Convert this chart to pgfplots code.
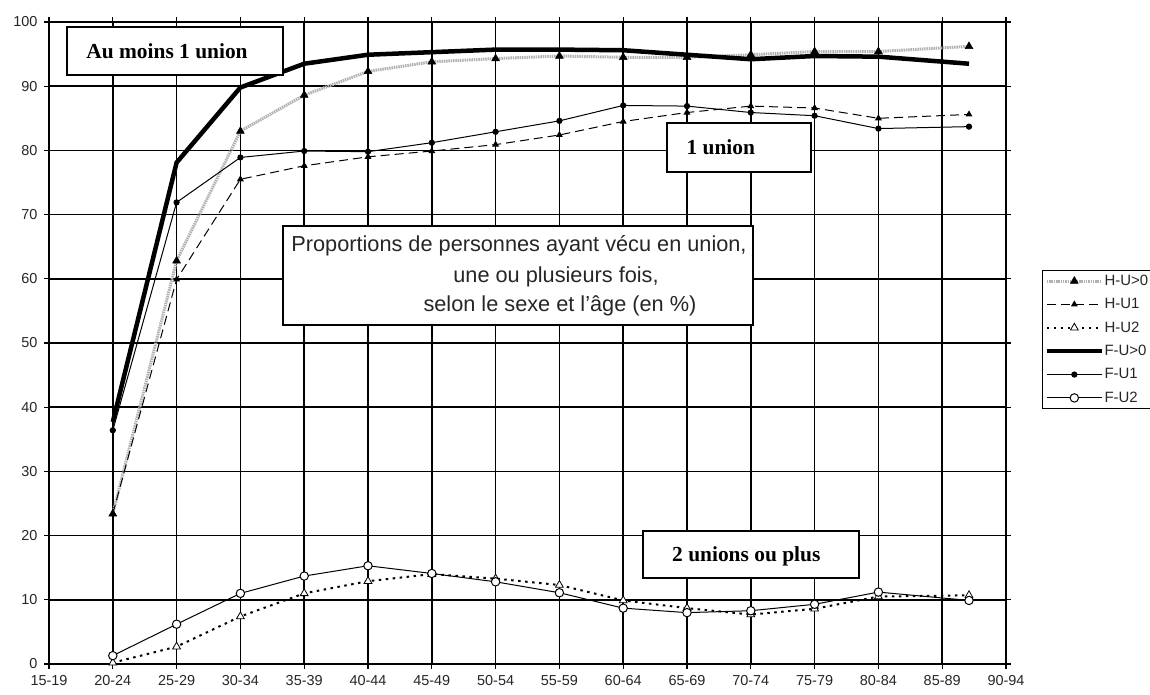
\documentclass[border=0pt]{standalone}
\usepackage{fontspec}
\setmainfont{Liberation Sans}
\newfontfamily\tnr{Liberation Serif}
\usepackage{pgfplots}
\usepackage{pgfplotstable}
\pgfplotsset{compat=1.18}

% one table per series, x = age group index (0 = 15-19)
\pgfplotstableread{
x y
1 23.4
2 62.8
3 83.0
4 88.6
5 92.3
6 93.8
7 94.3
8 94.7
9 94.5
10 94.5
11 94.9
12 95.4
13 95.4
14.42 96.2
}\hupos
\pgfplotstableread{
x y
1 23.4
2 59.9
3 75.5
4 77.6
5 79.0
6 79.9
7 80.9
8 82.4
9 84.5
10 85.9
11 86.9
12 86.6
13 85.0
14.42 85.6
}\huone
\pgfplotstableread{
x y
1 0.2
2 2.7
3 7.4
4 11.0
5 12.9
6 14.0
7 13.3
8 12.3
9 9.9
10 8.7
11 7.7
12 8.6
13 10.5
14.42 10.7
}\hutwo
\pgfplotstableread{
x y
1 37.7
2 78.1
3 89.8
4 93.5
5 94.9
6 95.3
7 95.7
8 95.7
9 95.6
10 94.9
11 94.2
12 94.7
13 94.6
14.42 93.5
}\fupos
\pgfplotstableread{
x y
1 36.4
2 71.9
3 78.9
4 79.9
5 79.8
6 81.2
7 82.9
8 84.6
9 87.0
10 86.9
11 85.9
12 85.4
13 83.4
14.42 83.7
}\fuone
\pgfplotstableread{
x y
1 1.3
2 6.2
3 11.0
4 13.7
5 15.3
6 14.1
7 12.8
8 11.1
9 8.7
10 8.0
11 8.3
12 9.3
13 11.2
14.42 9.9
}\futwo

\begin{document}
\begin{tikzpicture}
\path[use as bounding box] (-49bp,-31bp) rectangle (1101bp,664bp);
\begin{axis}[
    at={(0,0)}, anchor=south west,
    scale only axis,
    width=957bp, height=642bp,
    xmin=0, xmax=15, ymin=0, ymax=100,
    xtick={0,...,15},
    xticklabels={15-19,20-24,25-29,30-34,35-39,40-44,45-49,50-54,55-59,60-64,65-69,70-74,75-79,80-84,85-89,90-94},
    ytick={0,10,...,100},
    grid=major,
    major grid style={black, line width=1.5bp},
    axis line style={black, line width=1.5bp},
    tick style={black, line width=1.3bp},
    tick align=outside,
    major tick length=5bp,
    tick label style={font=\fontsize{14.5}{16}\selectfont, text=black!85},
    /pgf/number format/assume math mode=true,
    xticklabel style={yshift=-3bp},
    yticklabel style={xshift=-3bp},
    legend image code/.code={\draw[mark repeat=2,mark phase=2,#1] plot coordinates {(0bp,0bp) (27.5bp,0bp) (55bp,0bp)};},
    legend style={at={(1.0376,0.6137)}, anchor=north west,
        draw=black, line width=1.2bp, inner xsep=2bp, inner ysep=4bp,
        font=\fontsize{15}{16}\selectfont, row sep=10.5bp,
        nodes={inner sep=0.5bp, text=black!85}},
    legend cell align=left,
    clip=false,
]
\addplot[gray!60, line width=3bp, dash pattern=on 1.5bp off 0.8bp,
    mark=triangle*, mark size=4.5bp, mark options={solid, black, fill=black, line width=0.5bp}] table {\hupos};
\addlegendentry{H-U>0}
\addplot[black, line width=1bp, dash pattern=on 9bp off 5bp,
    mark=triangle*, mark size=3bp, mark options={solid, fill=black}] table {\huone};
\addlegendentry{H-U1}
\addplot[black, line width=2bp, dash pattern=on 2.5bp off 4.5bp,
    mark=triangle*, mark size=4.5bp, mark options={solid, fill=white, line width=0.8bp}] table {\hutwo};
\addlegendentry{H-U2}
\addplot[black, line width=4.5bp, no markers] table {\fupos};
\addlegendentry{F-U>0}
\addplot[black, line width=1bp,
    mark=*, mark size=2.6bp, mark options={solid, fill=black}] table {\fuone};
\addlegendentry{F-U1}
\addplot[black, line width=1bp,
    mark=*, mark size=4.2bp, mark options={solid, fill=white, line width=1bp}] table {\futwo};
\addlegendentry{F-U2}

% labelled boxes
\draw[fill=white, line width=1.5bp] (axis cs:0.282,91.74) rectangle (axis cs:3.668,99.2);
\node[font=\tnr\bfseries\fontsize{21.5}{24}\selectfont] at (axis cs:1.85,95.5) {Au moins 1 union};
\draw[fill=white, line width=1.5bp] (axis cs:9.687,76.64) rectangle (axis cs:11.944,84.27);
\node[font=\tnr\bfseries\fontsize{21.5}{24}\selectfont] at (axis cs:10.53,80.5) {1 union};
\draw[fill=white, line width=1.5bp] (axis cs:9.31,13.40) rectangle (axis cs:12.696,20.72);
\node[font=\tnr\bfseries\fontsize{21.5}{24}\selectfont] at (axis cs:10.93,16.8) {2 unions ou plus};
\draw[fill=white, line width=1.2bp] (axis cs:3.668,52.80) rectangle (axis cs:11.034,68.22);
\node[anchor=base, font=\fontsize{21.8}{24}\selectfont, text=black!85] at (axis cs:7.367,64.22) {Proportions de personnes ayant vécu en union,};
\node[anchor=base, font=\fontsize{21.8}{24}\selectfont, text=black!85] at (axis cs:7.947,59.39) {une ou plusieurs fois,};
\node[anchor=base, font=\fontsize{21.8}{24}\selectfont, text=black!85] at (axis cs:8.009,54.84) {selon le sexe et l'âge (en \%)};
\end{axis}
\end{tikzpicture}
\end{document}
